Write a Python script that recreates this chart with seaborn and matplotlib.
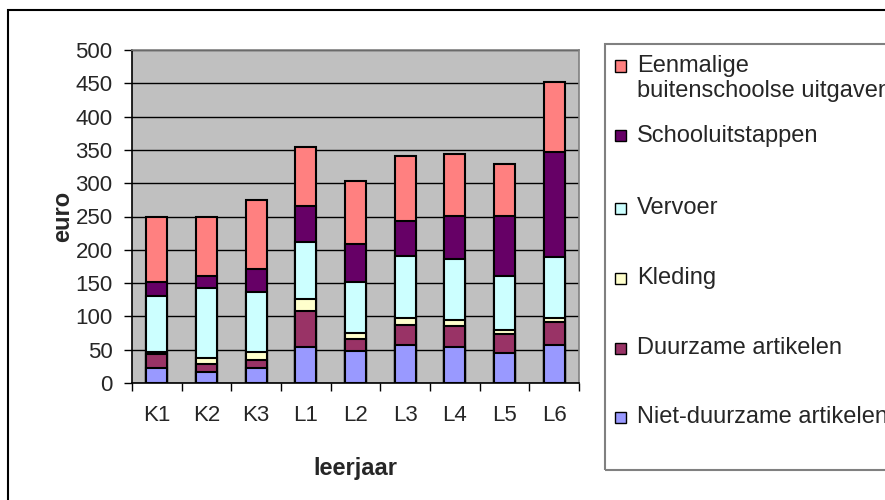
import numpy as np
import matplotlib
matplotlib.use("Agg")
import matplotlib.pyplot as plt
from matplotlib.patches import Rectangle
import seaborn as sns

leerjaar = ["K1", "K2", "K3", "L1", "L2", "L3", "L4", "L5", "L6"]

# euro per leerjaar, van onder naar boven gestapeld
niet_duurzaam = [22, 17, 22, 54, 48, 56.5, 54, 45, 56.5]
duurzaam = [21, 11.5, 12, 54.5, 18, 31, 32, 29, 34.5]
kleding = [3, 9, 12, 18, 9, 10, 9, 6, 6]
vervoer = [85, 105, 91, 85, 76, 93.5, 91, 80, 91.5]
uitstappen = [20, 17.5, 34.5, 55, 58, 51.5, 65.5, 91.5, 158]
eenmalig = [99, 90, 103.5, 88.5, 95, 98.5, 92.5, 77.5, 106]

series = [
    ("Niet-duurzame artikelen", niet_duurzaam, "#9999FF"),
    ("Duurzame artikelen", duurzaam, "#993366"),
    ("Kleding", kleding, "#FFFFCC"),
    ("Vervoer", vervoer, "#CCFFFF"),
    ("Schooluitstappen", uitstappen, "#660066"),
    ("Eenmalige\nbuitenschoolse uitgaven", eenmalig, "#FF8080"),
]

sns.set_style("white")
plt.rcParams["font.family"] = ["Liberation Sans", "DejaVu Sans"]

W, H = 885, 500
fig = plt.figure(figsize=(W / 100, H / 100), dpi=100)


def fx(px):
    return px / W


def fy(py):
    return 1 - py / H


ax = fig.add_axes([fx(132), fy(383), fx(579) - fx(132), fy(50) - fy(383)])
ax.set_facecolor("#C0C0C0")

# bars from the total downwards, so every lower segment sits in front
cum = np.cumsum([s[1] for s in series], axis=0)
for i in range(len(series) - 1, -1, -1):
    sns.barplot(x=leerjaar, y=cum[i], color=series[i][2], width=0.42,
                edgecolor="black", linewidth=1.5, saturation=1,
                errorbar=None, ax=ax)

ax.set_ylim(0, 500)
ax.set_xlim(-0.5, 8.5)
ax.set_yticks(range(0, 501, 50))
ax.set_axisbelow(True)
ax.yaxis.grid(True, color="black", linewidth=1)
ax.xaxis.grid(False)

ax.set_xticks(np.arange(-0.5, 9, 1), minor=True)
ax.tick_params(axis="x", which="major", length=0, pad=16, labelsize=16)
ax.tick_params(axis="x", which="minor", length=6, width=1, color="black",
               direction="out", bottom=True)
ax.tick_params(axis="y", length=6, width=1, color="black", direction="out",
               left=True, pad=8, labelsize=16)

for side in ["left", "bottom"]:
    ax.spines[side].set_color("black")
    ax.spines[side].set_linewidth(1.2)
for side in ["top", "right"]:
    ax.spines[side].set_color("#808080")
    ax.spines[side].set_linewidth(1.2)

ax.set_xlabel("leerjaar", fontsize=17, fontweight="bold", labelpad=22)
ax.set_ylabel("euro", fontsize=17, fontweight="bold", labelpad=1)

# buitenste kader
fig.patches.append(Rectangle((fx(8), fy(510)), fx(900) - fx(8), fy(10) - fy(510),
                             transform=fig.transFigure, fill=False,
                             edgecolor="black", linewidth=1.5))

# legenda
fig.patches.append(Rectangle((fx(605), fy(470)), fx(900) - fx(605), fy(44) - fy(470),
                             transform=fig.transFigure, fill=False,
                             edgecolor="#808080", linewidth=1.5))

legend_y = [66, 136, 208, 278, 348, 417]
legend_items = list(reversed(series))
for (label, _, color), y in zip(legend_items, legend_y):
    fig.patches.append(Rectangle((fx(615), fy(y + 5.5)), fx(11), fx(11) * W / H,
                                 transform=fig.transFigure, facecolor=color,
                                 edgecolor="black", linewidth=1))
    fig.text(fx(637), fy(y - 11), label, fontsize=17, ha="left", va="top",
             linespacing=1.15)

fig.savefig("out.png", dpi=100)
